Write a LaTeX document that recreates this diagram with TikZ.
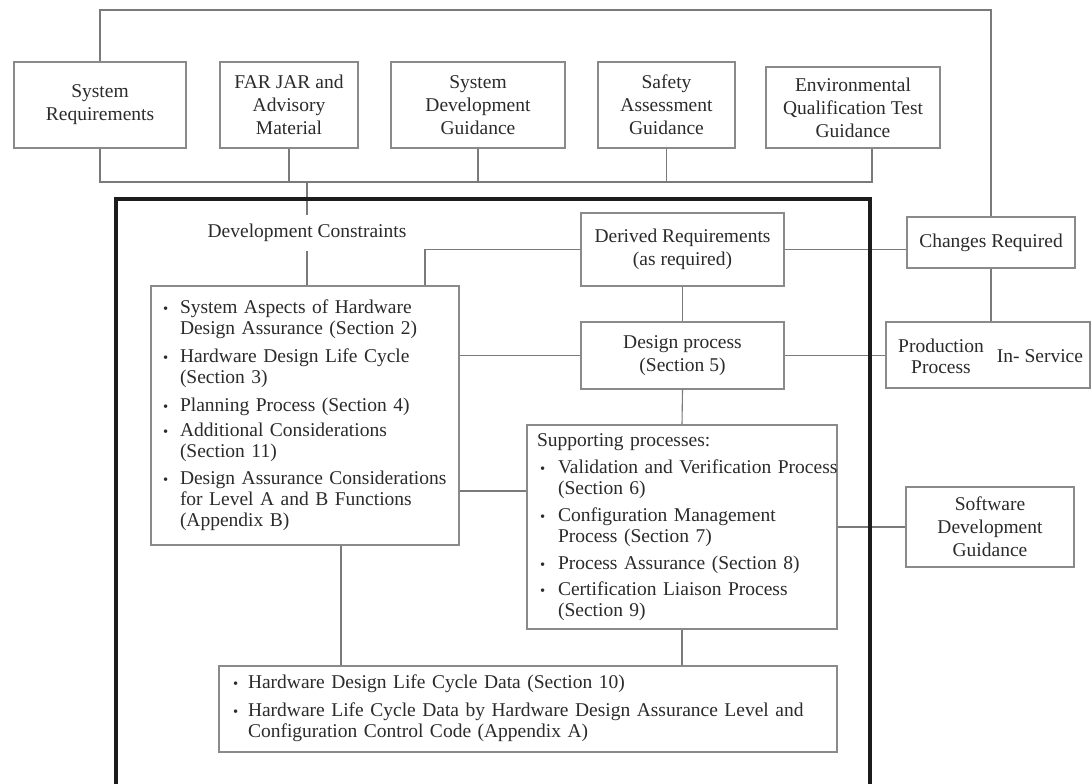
\documentclass[tikz,border=0pt]{standalone}
\usepackage{fontspec}
\setmainfont{Liberation Serif}
\usepackage{graphicx}
\definecolor{ink}{HTML}{2B2B2B}
\definecolor{edge}{HTML}{8A8A8A}
\definecolor{wire}{HTML}{7A7A7A}
\definecolor{framecol}{HTML}{1C1C1C}
\newcommand{\bul}{\scalebox{0.75}{\textbullet}}

\begin{document}
\begin{tikzpicture}[x=1pt,y=-1pt,
  box/.style={draw=edge, line width=1.1pt, fill=white, inner sep=0pt,
    text=ink, font=\fontsize{19.5}{23}\selectfont, align=center},
  listbox/.style={box, align=left, font=\fontsize{19.5}{21}\selectfont},
  plain/.style={inner sep=0pt, text=ink, font=\fontsize{19.5}{21}\selectfont, align=center},
  conn/.style={draw=wire, line width=1.1pt},
  framebox/.style={draw=framecol, line width=4pt}]

\useasboundingbox (0,0) rectangle (1092,784);
\clip (0,0) rectangle (1092,784);
\fill[white] (0,0) rectangle (1092,784);

% guidance inputs along the top
\node[box, minimum width=172pt, minimum height=86pt] (sysreq) at (100,105) {System\\Requirements};
\node[box, minimum width=138pt, minimum height=86pt] (farjar) at (289,105) {FAR JAR and\\Advisory\\Material};
\node[box, minimum width=174pt, minimum height=86pt] (sysdev) at (478,105) {System\\Development\\Guidance};
\node[box, minimum width=137pt, minimum height=86pt] (safety) at (666.5,105) {Safety\\Assessment\\Guidance};
\node[box, minimum width=174pt, minimum height=81pt] (env) at (853,107.5) {Environmental\\Qualification Test\\Guidance};

% hardware design assurance core
\node[plain, minimum height=36pt] (dc) at (307,233) {Development Constraints};

\node[box, minimum width=203pt, minimum height=73pt] (derived) at (682.5,249.5) {Derived Requirements\\(as required)};
\node[box, minimum width=203pt, minimum height=67pt] (design) at (682.5,355.5) {Design process\\(Section 5)};

\node[listbox, text width=284pt, inner xsep=12pt, minimum height=259pt] (list) at (305,415.5) {%
\begin{tabular}{@{}p{17pt}@{}l@{}}
\bul & System Aspects of Hardware\\
 & Design Assurance (Section 2)\\[7pt]
\bul & Hardware Design Life Cycle\\
 & (Section 3)\\[7pt]
\bul & Planning Process (Section 4)\\[4pt]
\bul & Additional Considerations\\
 & (Section 11)\\[6pt]
\bul & Design Assurance Considerations\\
 & for Level A and B Functions\\
 & (Appendix B)
\end{tabular}};

\node[listbox, text width=290pt, inner xsep=10pt, minimum height=204pt] (supp) at (682,527) {%
\begin{tabular}{@{}p{21pt}@{}l@{}}
\multicolumn{2}{@{}l@{}}{Supporting processes:}\\[6pt]
\hspace*{3pt}\bul & Validation and Verification Process\\
 & (Section 6)\\[6pt]
\hspace*{3pt}\bul & Configuration Management\\
 & Process (Section 7)\\[6pt]
\hspace*{3pt}\bul & Process Assurance (Section 8)\\[5pt]
\hspace*{3pt}\bul & Certification Liaison Process\\
 & (Section 9)
\end{tabular}};

\node[listbox, text width=590pt, inner xsep=14pt, minimum height=86pt] (bottom) at (528,709) {%
\begin{tabular}{@{}p{15pt}@{}l@{}}
\bul & Hardware Design Life Cycle Data (Section 10)\\[7pt]
\bul & Hardware Life Cycle Data by Hardware Design Assurance Level and\\
 & Configuration Control Code (Appendix A)
\end{tabular}};

% outside the assurance boundary
\node[box, minimum width=168pt, minimum height=51pt] (changes) at (991,242.5) {Changes Required};
\node[box, minimum width=204pt, minimum height=66pt] (prod) at (988,355) {};
\node[plain] (prodA) at (941,356.5) {Production\\Process};
\node[plain] (prodB) at (1040,356) {In- Service};
\node[box, minimum width=168pt, minimum height=80pt] (soft) at (990,527) {Software\\Development\\Guidance};

% helper coordinates for the routed lines
\coordinate (topy) at (0,10);
\coordinate (busy) at (0,182);
\coordinate (envfoot) at ([xshift=19pt]env.south);
\coordinate (dlx) at (425,0);
\coordinate (lsy) at (0,491);
\coordinate (lbx) at (341,0);

% feedback loop and input bus
\draw[conn] (sysreq.north) -- (sysreq.north |- topy) -- (changes.north |- topy) -- (changes.north);
\draw[conn] (sysreq.south) -- (sysreq.south |- busy) -- (envfoot |- busy) -- (envfoot);
\draw[conn] (farjar.south) -- (farjar.south |- busy);
\draw[conn] (sysdev.south) -- (sysdev.south |- busy);
\draw[conn] (safety.south) -- (safety.south |- busy);
\draw[conn] (dc.north |- busy) -- (dc.north);
\draw[conn] (dc.south) -- (dc.south |- list.north);

% links between the process boxes
\draw[conn] (derived.west) -- (derived.west -| dlx) -- (dlx |- list.north);
\draw[conn] (derived.east) -- (derived.east -| changes.west);
\draw[conn] (changes.south) -- (changes.south |- prod.north);
\draw[conn] (derived.south) -- (design.north);
\draw[conn] (design.west -| list.east) -- (design.west);
\draw[conn] (design.east) -- (design.east -| prod.west);
\draw[conn] (design.south) -- (supp.north);
\draw[conn] (list.east |- lsy) -- (supp.west |- lsy);
\draw[conn] (supp.east |- soft.west) -- (soft.west);
\draw[conn] (lbx |- list.south) -- (lbx |- bottom.north);
\draw[conn] (supp.south) -- (supp.south |- bottom.north);

% heavy boundary, open at the bottom
\draw[framebox] (116,800) -- (116,199) -- (870,199) -- (870,800);

\end{tikzpicture}
\end{document}
